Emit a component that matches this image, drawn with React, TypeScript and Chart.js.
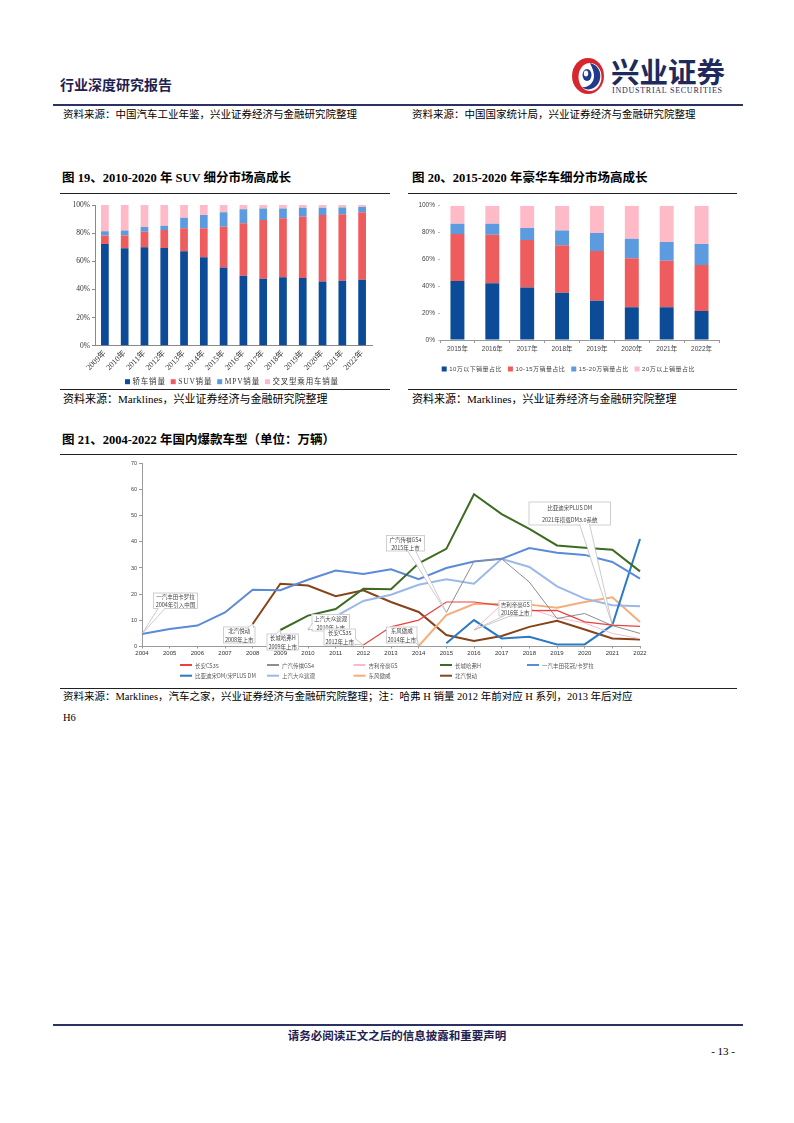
import React, { useEffect, useRef } from "react";
import { Chart, registerables } from "chart.js";
Chart.register(...registerables);

const SERIF = '"Liberation Serif", "Times New Roman", "Noto Sans CJK SC", serif';
const SANS = '"Liberation Sans", Arial, "Noto Sans CJK SC", sans-serif';
const NAVY = "#2B3163";

// ---------- 图19 ----------
const suvYears = ["2009年", "2010年", "2011年", "2012年", "2013年", "2014年", "2015年", "2016年", "2017年", "2018年", "2019年", "2020年", "2021年", "2022年"];
const sedanShare = [72.3, 69.2, 69.9, 69.4, 67.1, 62.8, 55.5, 49.8, 47.6, 48.6, 48.1, 45.7, 46.2, 46.9];
const suvShare = [6.1, 9.2, 11.1, 12.8, 16.3, 20.6, 29.1, 37.2, 41.7, 41.9, 43.6, 47.2, 47.2, 47.9];
const mpvShare = [2.9, 3.4, 3.4, 3.1, 7.6, 9.5, 10.2, 9.9, 8.3, 7.1, 6.4, 5.2, 4.9, 3.8];
const crossShare = [18.7, 18.2, 15.6, 14.7, 9.0, 7.1, 5.2, 3.1, 2.4, 2.4, 1.9, 1.9, 1.7, 1.4];
const suvLabels = ["轿车销量", "SUV销量", "MPV销量", "交叉型乘用车销量"];
const pctTicks = [0, 20, 40, 60, 80, 100];

// ---------- 图20 ----------
const luxYears = ["2015年", "2016年", "2017年", "2018年", "2019年", "2020年", "2021年", "2022年"];
const below10 = [43.9, 42.2, 39.0, 35.2, 29.3, 24.3, 24.3, 21.6];
const from10to15 = [35.0, 36.2, 35.4, 35.3, 37.0, 36.5, 34.8, 34.2];
const from15to20 = [7.7, 8.2, 9.0, 11.1, 13.4, 14.6, 13.9, 15.7];
const above20 = [13.4, 13.4, 16.6, 18.4, 20.3, 24.6, 27.0, 28.5];
const luxLabels = ["10万以下销量占比", "10-15万销量占比", "15-20万销量占比", "20万以上销量占比"];

// ---------- 图21 ----------
const modelYears = ["2004", "2005", "2006", "2007", "2008", "2009", "2010", "2011", "2012", "2013", "2014", "2015", "2016", "2017", "2018", "2019", "2020", "2021", "2022"];
const N = null;
const cs35 = [N, N, N, N, N, N, N, N, 0.6, 7.5, 10.1, 17.0, 17.0, 15.6, 13.7, 13.8, 9.4, 8.2, 7.7];
const gs4 = [N, N, N, N, N, N, N, N, N, N, N, 13.0, 32.5, 33.5, 24.6, 10.7, 12.6, 8.0, 5.0];
const dihaoGS = [N, N, N, N, N, N, N, N, N, N, N, N, 6.3, 16.0, 14.5, 11.0, 9.0, 5.0, 3.0];
const havalH = [N, N, N, N, N, 6.3, 11.8, 14.3, 22.1, 21.9, 31.8, 37.3, 58.2, 50.6, 44.9, 38.6, 37.7, 37.0, 28.7];
const corolla = [4.8, 6.7, 8.0, 13.0, 21.7, 21.5, 25.5, 29.0, 27.7, 29.5, 25.7, 30.0, 32.5, 33.5, 37.6, 35.8, 35.0, 32.3, 25.9];
const songDM = [N, N, N, N, N, N, N, N, N, N, N, 1.2, 10.1, 3.1, 3.7, 0.8, 0.8, 8.2, 41.1];
const tiguan = [N, N, N, N, N, N, 6.5, 11.5, 17.4, 19.8, 23.6, 25.7, 24.0, 33.5, 30.4, 23.0, 18.3, 15.8, 15.4];
const dongfeng = [N, N, N, N, N, N, N, N, N, N, 0.2, 12.0, 16.2, 16.2, 16.0, 14.8, 17.0, 18.8, 9.4];
const yuedong = [N, N, N, N, 8.6, 24.0, 23.3, 19.2, 21.5, 17.0, 13.2, 4.4, 2.1, 4.0, 7.5, 9.8, 6.5, 3.1, 2.7];
const modelNames = ["长安CS35", "广汽传祺GS4", "吉利帝豪GS", "长城哈弗H", "一汽丰田花冠/卡罗拉", "比亚迪宋DM/宋PLUS DM", "上汽大众途观", "东风傲威", "北汽悦动"];
const modelSeries = [cs35, gs4, dihaoGS, havalH, corolla, songDM, tiguan, dongfeng, yuedong];
const modelTicks = [0, 10, 20, 30, 40, 50, 60, 70];

// styles (kept apart from the data)
const modelColors = ["#E8433F", "#8E8E8E", "#F8BACB", "#3D6B22", "#5B8AD6", "#2A7AC6", "#9AB8E8", "#F5AD7C", "#87431A"];
const modelWidths = [1.2, 1, 1, 2, 2, 2, 2, 2, 2];

// callout layout (canvas coordinates of chart 21); anchor comes from the series value
const callouts = [
  { series: 4, year: "2004", text: ["一汽丰田卡罗拉", "2004年引入中国"], box: [93, 134.5, 45, 16.5], side: "bottom", at: 0.2, hw: 3.5 },
  { series: 8, year: "2008", text: ["北汽悦动", "2008年上市"], box: [163, 168.5, 32.5, 17], side: "top", at: 0.85, hw: 3 },
  { series: 3, year: "2009", text: ["长城哈弗H", "2009年上市"], box: [206.5, 175.5, 32.5, 17], side: "top", at: 0.35, hw: 3 },
  { series: 6, year: "2010", text: ["上汽大众途观", "2010年上市"], box: [251.5, 156, 38.5, 17.5], side: "left", at: 0.7, hw: 3 },
  { series: 0, year: "2012", text: ["长安CS35", "2012年上市"], box: [263.5, 170.5, 32.5, 17], side: "right", at: 0.75, hw: 3 },
  { series: 7, year: "2014", text: ["东风傲威", "2014年上市"], box: [326, 168.5, 31.5, 17], side: "right", at: 0.8, hw: 3 },
  { series: 1, year: "2015", text: ["广汽传祺GS4", "2015年上市"], box: [326, 77, 39, 16.5], side: "bottom", at: 0.65, hw: 4 },
  { series: 2, year: "2016", text: ["吉利帝豪GS", "2016年上市"], box: [438.5, 142, 33.5, 16.5], side: "bottom", at: 0.3, hw: 3.5 },
  { series: 5, year: "2021", text: ["比亚迪宋PLUS DM", "2021年搭载DM3.0系统"], box: [468.5, 43.5, 82.5, 24], side: "bottom", at: 0.68, hw: 5 },
];

function makeBoxLegend(cfg: any) {
  return {
    id: "boxLegend",
    afterDraw(chart: any) {
      const ctx = chart.ctx;
      ctx.save();
      ctx.font = cfg.font;
      if ("letterSpacing" in ctx) (ctx as any).letterSpacing = (cfg.spacing || 0) + "px";
      ctx.textBaseline = "middle";
      ctx.textAlign = "left";
      let x = cfg.x;
      chart.data.datasets.forEach((d: any) => {
        ctx.fillStyle = d.backgroundColor;
        ctx.fillRect(x, cfg.y - cfg.box / 2, cfg.box, cfg.box);
        ctx.fillStyle = cfg.color;
        ctx.fillText(d.label, x + cfg.box + cfg.textGap, cfg.y + 0.5);
        x += cfg.box + cfg.textGap + ctx.measureText(d.label).width + cfg.gap;
      });
      ctx.restore();
    },
  };
}

function makeLineLegend(cfg: any) {
  return {
    id: "lineLegend",
    afterDraw(chart: any) {
      const ctx = chart.ctx;
      ctx.save();
      ctx.font = cfg.font;
      ctx.textBaseline = "middle";
      ctx.textAlign = "left";
      chart.data.datasets.forEach((d: any, i: number) => {
        const x = cfg.cols[i % cfg.cols.length];
        const y = cfg.rows[Math.floor(i / cfg.cols.length)];
        ctx.strokeStyle = d.borderColor;
        ctx.lineWidth = 2;
        ctx.beginPath();
        ctx.moveTo(x, y);
        ctx.lineTo(x + cfg.len, y);
        ctx.stroke();
        ctx.fillStyle = cfg.color;
        ctx.fillText(d.label, x + cfg.len + cfg.textGap, y + 0.5);
      });
      ctx.restore();
    },
  };
}

const calloutPlugin = {
  id: "callouts",
  afterDatasetsDraw(chart: any) {
    const { ctx, scales } = chart;
    const xs = scales.x;
    const ys = scales.y;
    ctx.save();
    callouts.forEach((c) => {
      const idx = chart.data.labels.indexOf(c.year);
      const v = chart.data.datasets[c.series].data[idx];
      const tx = xs.getPixelForValue(idx);
      const ty = ys.getPixelForValue(v);
      const [bx, by, bw, bh] = c.box;
      ctx.fillStyle = "#fff";
      ctx.strokeStyle = "#c4c4c4";
      ctx.lineWidth = 0.8;
      ctx.fillRect(bx, by, bw, bh);
      ctx.strokeRect(bx + 0.5, by + 0.5, bw - 1, bh - 1);
      let b1: number[], b2: number[];
      const hw = c.hw;
      if (c.side === "bottom") {
        const px = bx + bw * c.at;
        b1 = [px - hw, by + bh - 1.2];
        b2 = [px + hw, by + bh - 1.2];
      } else if (c.side === "top") {
        const px = bx + bw * c.at;
        b1 = [px - hw, by + 1.2];
        b2 = [px + hw, by + 1.2];
      } else if (c.side === "left") {
        const py = by + bh * c.at;
        b1 = [bx + 1.2, py - hw];
        b2 = [bx + 1.2, py + hw];
      } else {
        const py = by + bh * c.at;
        b1 = [bx + bw - 1.2, py - hw];
        b2 = [bx + bw - 1.2, py + hw];
      }
      ctx.beginPath();
      ctx.moveTo(b1[0], b1[1]);
      ctx.lineTo(tx, ty);
      ctx.lineTo(b2[0], b2[1]);
      ctx.closePath();
      ctx.fillStyle = "#fff";
      ctx.fill();
      ctx.beginPath();
      ctx.moveTo(b1[0], b1[1]);
      ctx.lineTo(tx, ty);
      ctx.lineTo(b2[0], b2[1]);
      ctx.strokeStyle = "#b5b5b5";
      ctx.lineWidth = 0.7;
      ctx.stroke();
      ctx.fillStyle = "#444";
      ctx.font = '5.5px "Noto Sans CJK SC", sans-serif';
      ctx.textAlign = "center";
      ctx.textBaseline = "middle";
      const n = c.text.length;
      c.text.forEach((t, i) => {
        ctx.fillText(t, bx + bw / 2, by + (bh * (i + 0.5)) / n + 0.3);
      });
    });
    ctx.restore();
  },
};

function suvConfig(): any {
  const colors = ["#0B4B98", "#EE5C5E", "#5C9BE0", "#FFBAC8"];
  const series = [sedanShare, suvShare, mpvShare, crossShare];
  return {
    type: "bar",
    data: {
      labels: suvYears,
      datasets: series.map((d, i) => ({
        label: suvLabels[i],
        data: d,
        backgroundColor: colors[i],
        barPercentage: 0.39,
        categoryPercentage: 1,
      })),
    },
    options: {
      animation: false,
      responsive: false,
      devicePixelRatio: 1,
      layout: { padding: { left: 0, right: 18, top: 9, bottom: 12.3 } },
      scales: {
        x: {
          stacked: true,
          grid: { drawOnChartArea: false, drawTicks: false },
          border: { color: "#8a8a8a" },
          ticks: { font: { family: SERIF, size: 8 }, color: "#333", minRotation: 45, maxRotation: 45, padding: 3, autoSkip: false },
          afterFit: (s: any) => { s.height = 30; },
        },
        y: {
          stacked: true,
          min: 0,
          max: 100,
          afterBuildTicks: (s: any) => { s.ticks = pctTicks.map((v) => ({ value: v })); },
          ticks: { font: { family: SERIF, size: 7.5 }, color: "#333", padding: 2, callback: (v: any) => v + "%" },
          grid: { drawOnChartArea: false, drawTicks: true, tickLength: 3, color: "#8a8a8a" },
          border: { color: "#8a8a8a" },
          afterFit: (s: any) => { s.width = 35; },
        },
      },
      plugins: { legend: { display: false }, tooltip: { enabled: false } },
    },
    plugins: [makeBoxLegend({ x: 65, y: 185.7, box: 5, textGap: 2.5, gap: 5, font: `7.5px ${SERIF}`, spacing: 0.8, color: "#333" })],
  };
}

function luxConfig(): any {
  const colors = ["#0B4B98", "#EE5C5E", "#5C9BE0", "#FFBAC8"];
  const series = [below10, from10to15, from15to20, above20];
  return {
    type: "bar",
    data: {
      labels: luxYears,
      datasets: series.map((d, i) => ({
        label: luxLabels[i],
        data: d,
        backgroundColor: colors[i],
        barPercentage: 0.4,
        categoryPercentage: 1,
      })),
    },
    options: {
      animation: false,
      responsive: false,
      devicePixelRatio: 1,
      layout: { padding: { left: 0, right: 21, top: 9.7, bottom: 34 } },
      scales: {
        x: {
          stacked: true,
          grid: { drawOnChartArea: false, drawTicks: true, tickLength: 3, color: "#9a9a9a" },
          border: { color: "#9a9a9a" },
          ticks: { font: { family: SANS, size: 6.5 }, color: "#444", maxRotation: 0, padding: 2, autoSkip: false },
          afterFit: (s: any) => { s.height = 14; },
        },
        y: {
          stacked: true,
          min: 0,
          max: 100,
          afterBuildTicks: (s: any) => { s.ticks = pctTicks.map((v) => ({ value: v })); },
          ticks: { font: { family: SANS, size: 6.5 }, color: "#444", padding: 3, callback: (v: any) => v + "%" },
          grid: { drawOnChartArea: false, drawTicks: true, tickLength: 2, color: "#bdbdbd" },
          border: { display: false },
          afterFit: (s: any) => { s.width = 35; },
        },
      },
      plugins: { legend: { display: false }, tooltip: { enabled: false } },
    },
    plugins: [makeBoxLegend({ x: 36.7, y: 173, box: 5, textGap: 2.5, gap: 6, font: `6px ${SANS}`, spacing: 0.45, color: "#444" })],
  };
}

function modelConfig(): any {
  return {
    type: "line",
    data: {
      labels: modelYears,
      datasets: modelSeries.map((d, i) => ({
        label: modelNames[i],
        data: d,
        borderColor: modelColors[i],
        backgroundColor: modelColors[i],
        borderWidth: modelWidths[i],
        pointRadius: 0,
        tension: 0,
        spanGaps: false,
        fill: false,
      })),
    },
    options: {
      animation: false,
      responsive: false,
      devicePixelRatio: 1,
      layout: { padding: { left: 0, right: 100, top: 4.5, bottom: 29.5 } },
      scales: {
        x: {
          grid: { drawOnChartArea: false, drawTicks: true, tickLength: 2, color: "#9a9a9a" },
          border: { color: "#9a9a9a" },
          ticks: { font: { family: SANS, size: 6 }, color: "#333", maxRotation: 0, padding: 1, autoSkip: false },
          afterFit: (s: any) => { s.height = 12; },
        },
        y: {
          min: 0,
          max: 70,
          afterBuildTicks: (s: any) => { s.ticks = modelTicks.map((v) => ({ value: v })); },
          ticks: { font: { family: SANS, size: 5.5 }, color: "#444", padding: 2 },
          grid: { drawOnChartArea: false, drawTicks: true, tickLength: 3, color: "#9a9a9a" },
          border: { color: "#9a9a9a" },
          afterFit: (s: any) => { s.width = 82; },
        },
      },
      plugins: { legend: { display: false }, tooltip: { enabled: false } },
    },
    plugins: [
      calloutPlugin,
      makeLineLegend({ cols: [120, 207, 293.5, 380, 467], rows: [207, 217.7], len: 12, textGap: 3, font: '5.5px "Noto Sans CJK SC", sans-serif', color: "#555" }),
    ],
  };
}

function ChartBox(props: { left: number; top: number; width: number; height: number; make: () => any }) {
  const ref = useRef<HTMLCanvasElement>(null);
  useEffect(() => {
    const chart = new Chart(ref.current as HTMLCanvasElement, props.make());
    return () => chart.destroy();
  }, []);
  return (
    <canvas
      ref={ref}
      width={props.width}
      height={props.height}
      style={{ position: "absolute", left: props.left, top: props.top, width: props.width, height: props.height, display: "block" }}
    />
  );
}

function T(props: { x: number; y: number; size: number; bold?: boolean; color?: string; family?: string; spacing?: number; children: any; align?: string }) {
  const style: any = {
    position: "absolute",
    top: props.y - props.size * 0.6,
    fontSize: props.size,
    lineHeight: `${props.size * 1.2}px`,
    fontWeight: props.bold ? 700 : 400,
    color: props.color || "#000",
    fontFamily: props.family || SERIF,
    whiteSpace: "nowrap",
    letterSpacing: props.spacing ? props.spacing : 0,
  };
  if (props.align === "center") {
    style.left = props.x;
    style.transform = "translateX(-50%)";
  } else if (props.align === "right") {
    style.right = 794 - props.x;
  } else {
    style.left = props.x;
  }
  return <div style={style}>{props.children}</div>;
}

function HLine(props: { x1: number; x2: number; y: number; w: number; color: string }) {
  return (
    <div
      style={{ position: "absolute", left: props.x1, top: props.y - props.w / 2, width: props.x2 - props.x1, height: props.w, background: props.color }}
    />
  );
}

function Logo() {
  return (
    <svg width={36} height={40} viewBox="0 0 36 40" style={{ position: "absolute", left: 570, top: 56 }}>
      <ellipse cx={18} cy={20} rx={16} ry={18} fill="#D8262E" />
      <ellipse cx={20} cy={21} rx={11.5} ry={14} fill="#fff" />
      <path d="M20 7 C30 9 33 20 28 28 C24 34 16 35 12 31 C18 32 24 27 24 20 C24 14 21 10 20 7 Z" fill="#1F3B8A" />
      <ellipse cx={17} cy={19} rx={4.5} ry={6} fill="#1F3B8A" />
      <ellipse cx={16} cy={17.5} rx={2.2} ry={3} fill="#fff" />
    </svg>
  );
}

export default function App() {
  return (
    <div style={{ position: "absolute", left: 0, top: 0, width: 794, height: 1123, background: "#fff", overflow: "hidden" }}>
      {/* header */}
      <T x={60} y={84} size={14} bold color="#1E2150" family={'"Noto Sans CJK SC", sans-serif'}>行业深度研究报告</T>
      <Logo />
      <T x={611} y={71} size={28.5} bold color="#1F2A5C" family={'"Noto Sans CJK SC", sans-serif'}>兴业证券</T>
      <T x={612} y={91} size={8} color="#1F2A5C" spacing={0.75}>INDUSTRIAL SECURITIES</T>
      <HLine x1={53} x2={743} y={105} w={2.2} color={NAVY} />

      <T x={63} y={114} size={10.5} family={'"Noto Sans CJK SC", sans-serif'}>资料来源：中国汽车工业年鉴，兴业证券经济与金融研究院整理</T>
      <T x={412} y={114} size={10.5} family={'"Noto Sans CJK SC", sans-serif'}>资料来源：中国国家统计局，兴业证券经济与金融研究院整理</T>

      {/* figure 19 / 20 titles */}
      <T x={62} y={178} size={12.5} bold>图 19、2010-2020 年 SUV 细分市场高成长</T>
      <T x={412} y={178} size={12.5} bold>图 20、2015-2020 年豪华车细分市场高成长</T>
      <HLine x1={60} x2={390} y={193.5} w={1.4} color="#222" />
      <HLine x1={408} x2={737} y={193.5} w={1.4} color="#222" />

      <ChartBox left={60} top={196} width={330} height={192} make={suvConfig} />
      <ChartBox left={405} top={196} width={335} height={192} make={luxConfig} />

      <HLine x1={60} x2={390} y={389.5} w={1.4} color="#222" />
      <HLine x1={408} x2={737} y={389.5} w={1.4} color="#222" />
      <T x={63} y={399.5} size={11}>资料来源：Marklines，兴业证券经济与金融研究院整理</T>
      <T x={412} y={399.5} size={11}>资料来源：Marklines，兴业证券经济与金融研究院整理</T>

      {/* figure 21 */}
      <T x={62} y={440} size={12.5} bold>图 21、2004-2022 年国内爆款车型（单位：万辆）</T>
      <HLine x1={60} x2={737} y={454.5} w={1.4} color="#222" />
      <ChartBox left={60} top={458} width={680} height={230} make={modelConfig} />
      <HLine x1={60} x2={737} y={688.5} w={1.4} color="#222" />
      <T x={63} y={697.5} size={10.5}>资料来源：Marklines，汽车之家，兴业证券经济与金融研究院整理；注：哈弗 H 销量 2012 年前对应 H 系列，2013 年后对应</T>
      <T x={63} y={718} size={10.5}>H6</T>

      {/* footer */}
      <HLine x1={53} x2={743} y={1025} w={2.6} color={NAVY} />
      <T x={397} y={1036} size={11.5} bold align="center" color="#1E2150" family={'"Noto Sans CJK SC", sans-serif'}>请务必阅读正文之后的信息披露和重要声明</T>
      <T x={735} y={1052} size={11} align="right">- 13 -</T>
    </div>
  );
}
